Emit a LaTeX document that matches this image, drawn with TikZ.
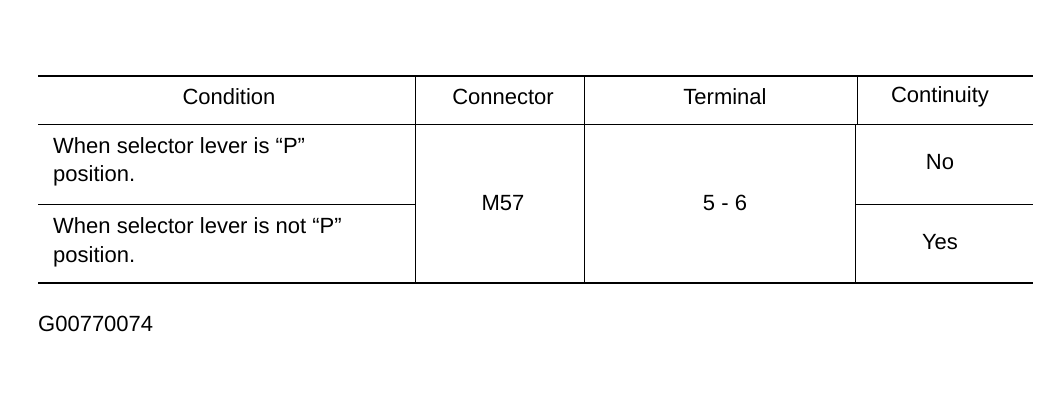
\documentclass[tikz,border=0pt]{standalone}
\usepackage{fontspec}
\setmainfont{Liberation Sans}
\begin{document}
\begin{tikzpicture}[x=1pt,y=1pt,yscale=-1,xscale=1,
  txt/.style={inner sep=0pt,font=\fontsize{22}{24}\selectfont},
  rule/.style={line width=2.2pt},
  grid/.style={line width=1pt}]
\useasboundingbox (0,0) rectangle (1044,405);

%Rules
\draw[rule] (38,76) -- (1033,76);
\draw[rule] (38,283) -- (1033,283);
\draw[grid] (38,124) -- (1033,124);
\draw[grid] (38,204) -- (415,204);
\draw[grid] (856,204) -- (1033,204);
%Columns
\draw[grid] (415,76) -- (415,283);
\draw[grid] (584,76) -- (584,283);
\draw[grid] (857,76) -- (857,124);
\draw[grid] (855,124) -- (855,283);

% Header
\node[txt] (hcond) at (229,97) {Condition};
\node[txt] (hconn) at (503,97) {Connector};
\node[txt] (hterm) at (725,97) {Terminal};
\node[txt] (hcont) at (940,97) {Continuity};

% Body
\node[txt,anchor=west] (r1a) at (53,146) {When selector lever is “P”};
\node[txt,anchor=west] (r1b) at (53,176) {position.};
\node[txt,anchor=west] (r2a) at (53,226) {When selector lever is not “P”};
\node[txt,anchor=west] (r2b) at (53,257) {position.};
\node[txt] (conn) at (503,203) {M57};
\node[txt] (term) at (725,203) {5 - 6};
\node[txt] (no) at (940,162) {No};
\node[txt] (yes) at (940,242) {Yes};

\node[txt,anchor=west] (code) at (38,324) {G00770074};
\end{tikzpicture}
\end{document}
